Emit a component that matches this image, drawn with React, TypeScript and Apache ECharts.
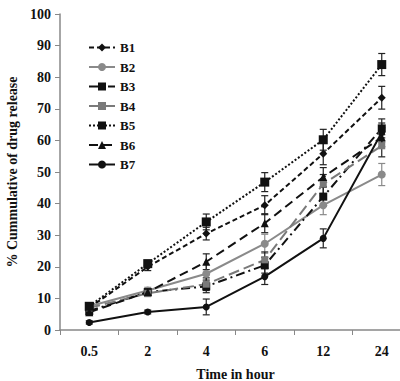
import React, { useEffect, useRef } from "react";
import * as echarts from "echarts";

const categories = ["0.5", "2", "4", "6", "12", "24"];
const seriesNames = ["B1", "B2", "B3", "B4", "B5", "B6", "B7"];
const b1 = [7.0, 20.0, 30.5, 39.5, 55.8, 73.5];
const b2 = [7.5, 12.5, 17.8, 27.3, 39.5, 49.2];
const b3 = [6.0, 12.0, 13.8, 20.5, 42.2, 63.8];
const b4 = [7.0, 11.6, 14.5, 22.2, 46.2, 58.3];
const b5 = [7.5, 21.0, 34.2, 46.8, 60.2, 84.0];
const b6 = [5.6, 12.0, 21.6, 33.8, 48.4, 61.0];
const b7 = [2.4, 5.7, 7.3, 16.9, 29.0, 62.5];
const b1Err = [1.0, 1.2, 2.0, 3.0, 3.5, 3.6];
const b2Err = [1.0, 1.0, 3.0, 3.0, 3.0, 3.5];
const b3Err = [1.0, 1.0, 2.0, 2.5, 3.0, 3.0];
const b4Err = [1.0, 1.0, 2.0, 2.5, 3.0, 3.5];
const b5Err = [1.0, 1.0, 2.5, 3.0, 3.3, 3.5];
const b6Err = [1.0, 1.0, 2.5, 3.0, 3.0, 3.0];
const b7Err = [0.5, 0.6, 2.5, 2.5, 3.0, 3.0];
const yTicks = [0, 10, 20, 30, 40, 50, 60, 70, 80, 90, 100];

const values = [b1, b2, b3, b4, b5, b6, b7];
const errors = [b1Err, b2Err, b3Err, b4Err, b5Err, b6Err, b7Err];

const styles = [
  { color: "#111", type: [5, 3], symbol: "diamond", size: 8 },
  { color: "#8a8a8a", type: "solid", symbol: "circle", size: 8 },
  { color: "#111", type: [9, 4, 2, 4], symbol: "rect", size: 8 },
  { color: "#7a7a7a", type: [11, 5], symbol: "rect", size: 7 },
  { color: "#111", type: [2, 2], symbol: "rect", size: 9 },
  { color: "#111", type: [9, 5], symbol: "triangle", size: 8 },
  { color: "#111", type: "solid", symbol: "circle", size: 7 },
];

const font = "'Liberation Serif', 'Times New Roman', serif";

export default function App() {
  const ref = useRef<HTMLDivElement>(null);
  useEffect(() => {
    if (!ref.current) return;
    const chart = echarts.init(ref.current, null, { renderer: "svg" });
    const lineSeries = seriesNames.map((name, i) => ({
      name,
      type: "line",
      data: values[i],
      symbol: styles[i].symbol,
      symbolSize: styles[i].size,
      z: 3,
      lineStyle: { color: styles[i].color, width: 2, type: styles[i].type },
      itemStyle: { color: styles[i].color, borderWidth: 0 },
    }));
    const errSeries = seriesNames.map((name, i) => ({
      name: name + "err",
      type: "custom",
      z: 2,
      data: values[i].map((v, j) => [j, v - errors[i][j], v + errors[i][j]]),
      renderItem: (params: any, api: any) => {
        const x = api.value(0);
        const lo = api.coord([x, api.value(1)]);
        const hi = api.coord([x, api.value(2)]);
        const hw = 3.5;
        const st = { stroke: i === 1 ? "#8a8a8a" : "#222", lineWidth: 1.2 };
        return {
          type: "group",
          children: [
            { type: "line", shape: { x1: lo[0], y1: lo[1], x2: hi[0], y2: hi[1] }, style: st },
            { type: "line", shape: { x1: lo[0] - hw, y1: lo[1], x2: lo[0] + hw, y2: lo[1] }, style: st },
            { type: "line", shape: { x1: hi[0] - hw, y1: hi[1], x2: hi[0] + hw, y2: hi[1] }, style: st },
          ],
        };
      },
    }));
    chart.setOption({
      animation: false,
      grid: { left: 60, top: 14, width: 351, height: 316, outerBoundsMode: "none", containLabel: false },
      legend: {
        orient: "vertical",
        left: 83,
        top: 36,
        itemWidth: 26,
        itemHeight: 10,
        itemGap: 6.5,
        data: seriesNames,
        textStyle: { fontFamily: font, fontWeight: "bold", fontSize: 13, color: "#111" },
      },
      xAxis: {
        type: "category",
        data: categories,
        boundaryGap: true,
        name: "Time in hour",
        nameLocation: "middle",
        nameGap: 37,
        nameTextStyle: { fontFamily: font, fontWeight: "bold", fontSize: 14, color: "#111" },
        axisLine: { lineStyle: { color: "#888", width: 1.5 } },
        axisTick: { show: true, length: 5, lineStyle: { color: "#888" } },
        axisLabel: { fontFamily: font, fontWeight: "bold", fontSize: 14, color: "#111", margin: 14 },
        splitLine: { show: false },
      },
      yAxis: {
        type: "value",
        min: yTicks[0],
        max: yTicks[yTicks.length - 1],
        interval: 10,
        name: "% Cummulative of drug release",
        nameLocation: "middle",
        nameGap: 37,
        nameTextStyle: { fontFamily: font, fontWeight: "bold", fontSize: 14, color: "#111" },
        axisLine: { show: true, lineStyle: { color: "#888", width: 1.5 } },
        axisTick: { show: true, length: 5, lineStyle: { color: "#888" } },
        axisLabel: { fontFamily: font, fontWeight: "bold", fontSize: 14, color: "#111", margin: 9 },
        splitLine: { show: false },
      },
      series: [...errSeries, ...lineSeries],
    });
    return () => chart.dispose();
  }, []);
  return (
    <div
      ref={ref}
      style={{ position: "absolute", left: 0, top: 0, width: 400, height: 381, background: "#fff" }}
    />
  );
}
